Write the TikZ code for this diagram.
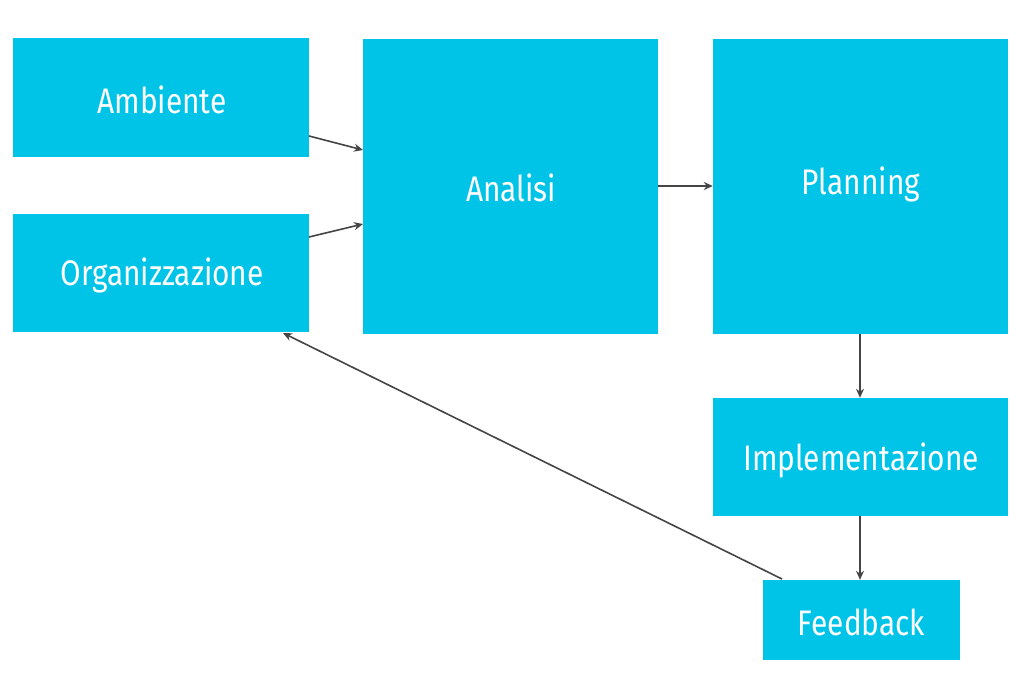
\documentclass[tikz,border=0pt]{standalone}
\usepackage{fontspec}
\setmainfont{Fira Sans}[FakeStretch=0.84]
\usetikzlibrary{arrows.meta}
\definecolor{boxcyan}{HTML}{00C3E8}
\definecolor{arrowgray}{HTML}{454545}
\tikzset{
  boxfill/.style={fill=boxcyan, draw=none, inner sep=0pt},
  lbl/.style={text=white, font=\fontsize{35.5}{40}\selectfont, inner sep=0pt},
  conn/.style={draw=arrowgray, line width=1.6pt, -{Stealth[length=9pt,width=8pt]}}
}
\begin{document}
\begin{tikzpicture}[x=1pt,y=-1pt]
\useasboundingbox (0,0) rectangle (1023,674);
\fill[white] (0,0) rectangle (1023,674);
\node[boxfill, minimum width=296pt, minimum height=119pt] (amb) at (161,97.5) {};
\node[boxfill, minimum width=296pt, minimum height=118pt] (org) at (161,273) {};
\node[boxfill, minimum width=295pt, minimum height=295pt] (ana) at (510.5,186.5) {};
\node[boxfill, minimum width=295pt, minimum height=295pt] (pla) at (860.5,186.5) {};
\node[boxfill, minimum width=295pt, minimum height=118pt] (imp) at (860.5,457) {};
\node[boxfill, minimum width=197pt, minimum height=80pt] (fee) at (861.5,620) {};
\node[lbl] (ambt) at (162,100) {Ambiente};
\node[lbl] (orgt) at (162,275) {Organizzazione};
\node[lbl] (anat) at (511,188) {Analisi};
\node[lbl] (plat) at (861,184) {Planning};
\node[lbl] (impt) at (861,460) {Implementazione};
\node[lbl] (feet) at (861.5,622) {Feedback};
\coordinate (a1) at (309,136);
\coordinate (a2) at (363,150);
\coordinate (o1) at (309,237);
\coordinate (o2) at (363,224);
\coordinate (f1) at (782,579);
\coordinate (o3) at (283,333);
\draw[conn] (a1) -- (a2);
\draw[conn] (o1) -- (o2);
\draw[conn] (ana.east |- 0,186) -- (pla.west |- 0,186);
\draw[conn] (pla.south -| 860,0) -- (imp.north -| 860,0);
\draw[conn] (imp.south -| 860,0) -- (fee.north -| 860,0);
\draw[conn] (f1) -- (o3);
\end{tikzpicture}
\end{document}
